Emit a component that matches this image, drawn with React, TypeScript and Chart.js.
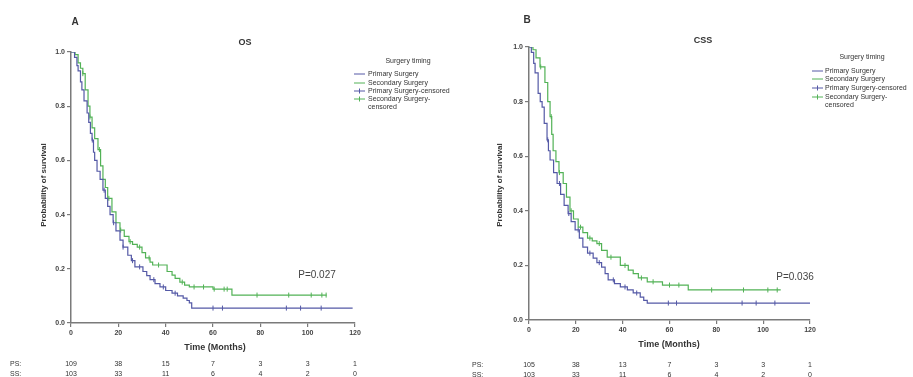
import React, { useEffect, useRef } from "react";
import { Chart, registerables } from "chart.js";

Chart.register(...registerables);

// ---------- data ----------
const monthTicks = [0, 20, 40, 60, 80, 100, 120];
const survivalTicks = [0, 0.2, 0.4, 0.6, 0.8, 1.0];

const seriesLabels = [
  "Primary Surgery",
  "Secondary Surgery",
  "Primary Surgery-censored",
  "Secondary Surgery-censored",
];
const legendTitle = "Surgery timing";
const riskLabels = ["PS:", "SS:"];

// Panel A: OS
const osPrimaryMonths = [0, 1.5, 2.5, 3, 4, 4.6, 5.5, 6.8, 7.5, 8.2, 8.9, 9.5, 10, 11, 12.3, 13.5, 14.5, 15.5, 16.5, 17.8, 19, 20.7, 22, 24, 25.5, 27, 30.4, 32, 33.4, 35.5, 37.6, 40, 42.7, 45, 47.4, 49, 50, 51, 119];
const osPrimarySurv = [1, 0.98, 0.95, 0.93, 0.89, 0.86, 0.82, 0.775, 0.74, 0.7, 0.675, 0.63, 0.6, 0.56, 0.53, 0.49, 0.46, 0.43, 0.4, 0.37, 0.34, 0.306, 0.28, 0.25, 0.23, 0.207, 0.19, 0.175, 0.16, 0.145, 0.133, 0.12, 0.11, 0.1, 0.092, 0.083, 0.074, 0.055, 0.055];
const osSecondaryMonths = [0, 1.7, 3, 4, 5, 6, 7.2, 8, 8.9, 10, 11.4, 12.5, 13.5, 14.5, 15.5, 17.3, 19, 20.7, 22.5, 24.5, 26, 28, 30, 31.5, 33.4, 34.5, 40.6, 42.7, 44, 46, 48, 50, 60, 68, 108];
const osSecondarySurv = [1, 0.99, 0.96, 0.94, 0.92, 0.86, 0.8, 0.76, 0.72, 0.68, 0.64, 0.58, 0.53, 0.5, 0.46, 0.41, 0.37, 0.343, 0.32, 0.3, 0.29, 0.28, 0.26, 0.24, 0.225, 0.214, 0.19, 0.177, 0.165, 0.151, 0.14, 0.133, 0.125, 0.103, 0.103];
const osPrimaryCensor = [9, 14, 18, 22, 26, 29, 35, 39, 44, 60, 64, 91, 97, 105.7];
const osSecondaryCensor = [5, 8, 12, 16, 21, 25, 29, 33, 37, 47, 52, 56, 60.5, 64.7, 66, 78.6, 92, 101.5, 106, 107.8];
const osRiskPrimary = [109, 38, 15, 7, 3, 3, 1];
const osRiskSecondary = [103, 33, 11, 6, 4, 2, 0];
const osPValue = "P=0.027";

// Panel B: CSS
const cssPrimaryMonths = [0, 1, 2, 2.6, 3.9, 4.8, 5.6, 6.5, 7.7, 8.3, 9, 10.5, 12, 13.5, 15, 16.7, 18, 19.7, 21.5, 23, 25, 27.4, 29, 31, 32.5, 33.8, 36.5, 39, 42, 44.5, 47.5, 49, 50.5, 120];
const cssPrimarySurv = [1, 0.98, 0.94, 0.905, 0.83, 0.8, 0.78, 0.72, 0.66, 0.62, 0.586, 0.54, 0.5, 0.46, 0.42, 0.39, 0.36, 0.33, 0.3, 0.267, 0.245, 0.227, 0.21, 0.194, 0.17, 0.147, 0.133, 0.121, 0.11, 0.099, 0.084, 0.072, 0.062, 0.062];
const cssSecondaryMonths = [0, 1.7, 3, 4.7, 6.8, 8, 9, 9.7, 10.3, 11.5, 12.8, 14.6, 16, 17.5, 19, 21, 23, 25, 27, 29, 31, 33.4, 39, 42.4, 44.5, 46.7, 50.5, 57, 68, 107.5];
const cssSecondarySurv = [1, 0.99, 0.96, 0.927, 0.87, 0.8, 0.745, 0.68, 0.62, 0.58, 0.54, 0.5, 0.45, 0.4, 0.37, 0.34, 0.32, 0.3, 0.29, 0.28, 0.255, 0.23, 0.2, 0.183, 0.17, 0.154, 0.14, 0.128, 0.11, 0.11];
const cssPrimaryCensor = [8, 13, 17, 21, 26, 30, 36, 41, 46, 59.5, 63, 91, 97, 105];
const cssSecondaryCensor = [5, 9.5, 13, 18, 22, 26, 30, 35, 41, 48, 53, 60, 64, 78, 91.6, 102, 106];
const cssRiskPrimary = [105, 38, 13, 7, 3, 3, 1];
const cssRiskSecondary = [103, 33, 11, 6, 4, 2, 0];
const cssPValue = "P=0.036";

// ---------- helpers ----------
const BLUE = "#5459a6";
const GREEN = "#52b256";
const FONT = "'Liberation Sans', Arial, sans-serif";
const TEXT = "#333333";
const AXIS = "#7a7a7a";

function stepAt(months: number[], surv: number[], t: number) {
  let v = surv[0];
  for (let i = 0; i < months.length; i++) if (months[i] <= t) v = surv[i];
  return v;
}

type PanelCfg = {
  width: number;
  area: { left: number; right: number; top: number; bottom: number };
  letter: string;
  letterPos: [number, number];
  title: string;
  titlePos: [number, number];
  legendTitlePos: [number, number];
  legendIconX: number;
  legendTextX: number;
  legendRows: number[];
  pValue: string;
  pPos: [number, number];
  xTitlePos: [number, number];
  yTitlePos: [number, number];
  riskLabelX: number;
  riskRowsY: number[];
  riskPrimary: number[];
  riskSecondary: number[];
  pMonths: number[];
  pSurv: number[];
  sMonths: number[];
  sSurv: number[];
  pCensor: number[];
  sCensor: number[];
};

function makeChart(canvas: HTMLCanvasElement, c: PanelCfg) {
  const H = 377;
  const toPts = (m: number[], s: number[]) => m.map((x, i) => ({ x, y: s[i] }));
  const censorPts = (cm: number[], m: number[], s: number[]) =>
    cm.map((x) => ({ x, y: stepAt(m, s, x) }));

  const textPlugin = {
    id: "kmText",
    afterDraw(chart: any) {
      const ctx = chart.ctx as CanvasRenderingContext2D;
      const xs = chart.scales.x;
      ctx.save();
      ctx.fillStyle = TEXT;
      ctx.textAlign = "center";
      ctx.textBaseline = "middle";
      ctx.font = `bold 10px ${FONT}`;
      ctx.fillText(c.letter, c.letterPos[0], c.letterPos[1]);
      ctx.font = `bold 9px ${FONT}`;
      ctx.fillText(c.title, c.titlePos[0], c.titlePos[1]);
      // legend
      ctx.font = `7px ${FONT}`;
      ctx.fillText(legendTitle, c.legendTitlePos[0], c.legendTitlePos[1]);
      const colors = [BLUE, GREEN, BLUE, GREEN];
      ctx.textAlign = "left";
      for (let i = 0; i < 4; i++) {
        const y = c.legendRows[i];
        ctx.strokeStyle = colors[i];
        ctx.lineWidth = 1;
        ctx.beginPath();
        ctx.moveTo(c.legendIconX, y);
        ctx.lineTo(c.legendIconX + 11, y);
        ctx.stroke();
        if (i >= 2) {
          ctx.beginPath();
          ctx.moveTo(c.legendIconX + 5.5, y - 2.5);
          ctx.lineTo(c.legendIconX + 5.5, y + 2.5);
          ctx.stroke();
        }
        let label = seriesLabels[i];
        if (i === 3) {
          ctx.fillText("Secondary Surgery-", c.legendTextX, y);
          ctx.fillText("censored", c.legendTextX, y + 8);
        } else {
          ctx.fillText(label, c.legendTextX, y);
        }
      }
      // p value
      ctx.textAlign = "center";
      ctx.font = `10px ${FONT}`;
      ctx.fillStyle = "#444";
      ctx.fillText(c.pValue, c.pPos[0], c.pPos[1]);
      // axis titles
      ctx.fillStyle = TEXT;
      ctx.font = `bold 9px ${FONT}`;
      ctx.fillText("Time (Months)", c.xTitlePos[0], c.xTitlePos[1]);
      ctx.save();
      ctx.translate(c.yTitlePos[0], c.yTitlePos[1]);
      ctx.rotate(-Math.PI / 2);
      ctx.font = `bold 8px ${FONT}`;
      ctx.fillText("Probability of survival", 0, 0);
      ctx.restore();
      // risk table
      ctx.font = `7px ${FONT}`;
      const rows = [c.riskPrimary, c.riskSecondary];
      rows.forEach((vals, r) => {
        const y = c.riskRowsY[r];
        ctx.textAlign = "left";
        ctx.fillText(riskLabels[r], c.riskLabelX, y);
        ctx.textAlign = "center";
        vals.forEach((v, i) => {
          ctx.fillText(String(v), xs.getPixelForValue(monthTicks[i]), y);
        });
      });
      ctx.restore();
    },
  };

  return new Chart(canvas, {
    type: "line",
    data: {
      datasets: [
        {
          label: seriesLabels[0],
          data: toPts(c.pMonths, c.pSurv),
          borderColor: BLUE,
          borderWidth: 1.2,
          stepped: true,
          pointRadius: 0,
          fill: false,
        },
        {
          label: seriesLabels[1],
          data: toPts(c.sMonths, c.sSurv),
          borderColor: GREEN,
          borderWidth: 1.2,
          stepped: true,
          pointRadius: 0,
          fill: false,
        },
        {
          label: seriesLabels[2],
          data: censorPts(c.pCensor, c.pMonths, c.pSurv),
          showLine: false,
          borderColor: BLUE,
          backgroundColor: BLUE,
          pointStyle: "line",
          rotation: 90,
          pointRadius: 2.5,
          pointBorderWidth: 1,
        },
        {
          label: seriesLabels[3],
          data: censorPts(c.sCensor, c.sMonths, c.sSurv),
          showLine: false,
          borderColor: GREEN,
          backgroundColor: GREEN,
          pointStyle: "line",
          rotation: 90,
          pointRadius: 2.5,
          pointBorderWidth: 1,
        },
      ],
    },
    options: {
      animation: false,
      responsive: false,
      devicePixelRatio: 1,
      layout: {
        padding: { left: 0, top: c.area.top, right: c.width - c.area.right, bottom: 0 },
      },
      plugins: { legend: { display: false }, title: { display: false }, tooltip: { enabled: false } },
      scales: {
        x: {
          type: "linear",
          min: 0,
          max: 120,
          afterBuildTicks: (s: any) => {
            s.ticks = monthTicks.map((v) => ({ value: v }));
          },
          afterFit: (s: any) => {
            s.height = H - c.area.bottom;
          },
          border: { color: AXIS, width: 1.5 },
          grid: { drawOnChartArea: false, drawTicks: true, tickLength: 4, color: AXIS, lineWidth: 1.2 },
          ticks: { color: "#444", font: { size: 7, weight: "bold", family: FONT }, padding: 2, maxRotation: 0 },
        },
        y: {
          type: "linear",
          min: 0,
          max: 1,
          afterBuildTicks: (s: any) => {
            s.ticks = survivalTicks.map((v) => ({ value: v }));
          },
          afterFit: (s: any) => {
            s.width = c.area.left;
          },
          border: { color: AXIS, width: 1.5 },
          grid: { drawOnChartArea: false, drawTicks: true, tickLength: 4, color: AXIS, lineWidth: 1.2 },
          ticks: {
            color: "#444",
            font: { size: 7, weight: "bold", family: FONT },
            padding: 2,
            callback: (v: any) => Number(v).toFixed(1),
          },
        },
      },
    },
    plugins: [textPlugin],
  } as any);
}

const panelA: PanelCfg = {
  width: 456,
  area: { left: 71, right: 355, top: 52, bottom: 323 },
  letter: "A",
  letterPos: [75, 22],
  title: "OS",
  titlePos: [245, 43],
  legendTitlePos: [408, 61],
  legendIconX: 354,
  legendTextX: 368,
  legendRows: [74, 83, 91, 99],
  pValue: osPValue,
  pPos: [317, 275],
  xTitlePos: [215, 348],
  yTitlePos: [44, 185],
  riskLabelX: 10,
  riskRowsY: [364, 374],
  riskPrimary: osRiskPrimary,
  riskSecondary: osRiskSecondary,
  pMonths: osPrimaryMonths,
  pSurv: osPrimarySurv,
  sMonths: osSecondaryMonths,
  sSurv: osSecondarySurv,
  pCensor: osPrimaryCensor,
  sCensor: osSecondaryCensor,
};

const panelB: PanelCfg = {
  width: 457,
  area: { left: 73, right: 354, top: 47, bottom: 320 },
  letter: "B",
  letterPos: [71, 20],
  title: "CSS",
  titlePos: [247, 41],
  legendTitlePos: [406, 57],
  legendIconX: 356,
  legendTextX: 369,
  legendRows: [71, 79, 88, 97],
  pValue: cssPValue,
  pPos: [339, 277],
  xTitlePos: [213, 345],
  yTitlePos: [44, 185],
  riskLabelX: 16,
  riskRowsY: [365, 375],
  riskPrimary: cssRiskPrimary,
  riskSecondary: cssRiskSecondary,
  pMonths: cssPrimaryMonths,
  pSurv: cssPrimarySurv,
  sMonths: cssSecondaryMonths,
  sSurv: cssSecondarySurv,
  pCensor: cssPrimaryCensor,
  sCensor: cssSecondaryCensor,
};

function Panel({ cfg, left }: { cfg: PanelCfg; left: number }) {
  const ref = useRef<HTMLCanvasElement | null>(null);
  useEffect(() => {
    if (!ref.current) return;
    const chart = makeChart(ref.current, cfg);
    return () => chart.destroy();
  }, [cfg]);
  return (
    <canvas
      ref={ref}
      width={cfg.width}
      height={377}
      style={{ position: "absolute", left, top: 0, width: cfg.width, height: 377 }}
    />
  );
}

export default function App() {
  return (
    <div style={{ position: "absolute", left: 0, top: 0, width: 913, height: 377, background: "#fff", overflow: "hidden" }}>
      <Panel cfg={panelA} left={0} />
      <Panel cfg={panelB} left={456} />
    </div>
  );
}
